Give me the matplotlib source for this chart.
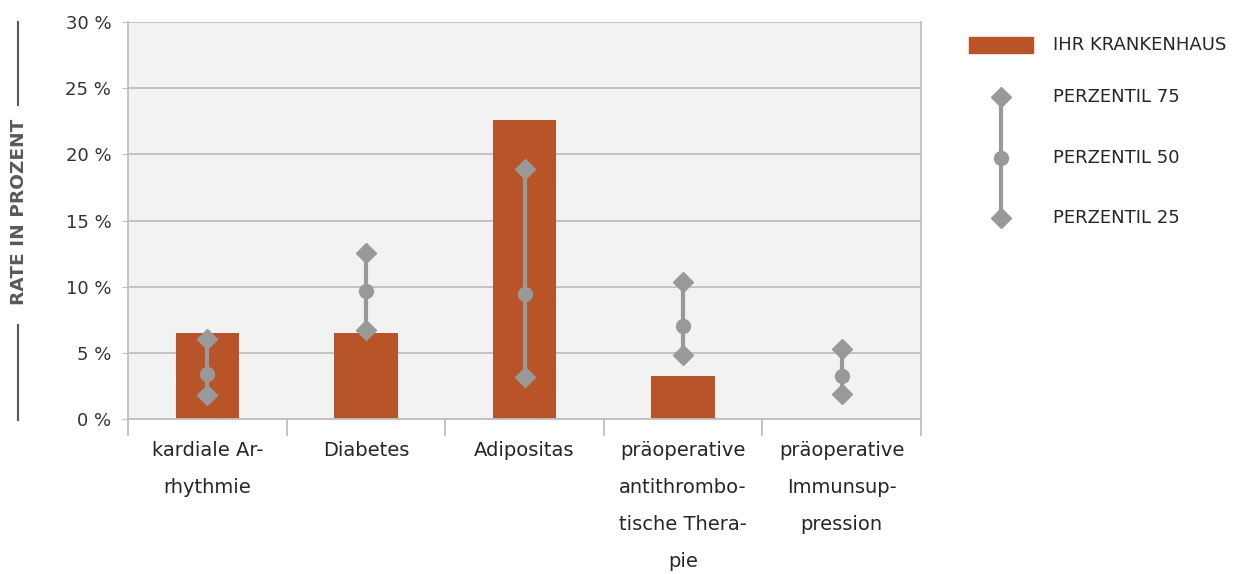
import matplotlib
matplotlib.use("Agg")
import matplotlib.pyplot as plt
import numpy as np
from matplotlib.lines import Line2D
from matplotlib.patches import Rectangle

categories = ["kardiale Ar-\nrhythmie", "Diabetes", "Adipositas",
              "präoperative\nantithrombo-\ntische Thera-\npie",
              "präoperative\nImmunsup-\npression"]
hospital = [6.5, 6.5, 22.6, 3.25, 0.0]
p75 = [6.05, 12.55, 18.9, 10.35, 5.3]
p50 = [3.4, 9.7, 9.45, 7.0, 3.25]
p25 = [1.8, 6.7, 3.2, 4.85, 1.9]
yticks = [0, 5, 10, 15, 20, 25, 30]
ytick_labels = ["0 %", "5 %", "10 %", "15 %", "20 %", "25 %", "30 %"]
legend_labels = ["IHR KRANKENHAUS", "PERZENTIL 75", "PERZENTIL 50", "PERZENTIL 25"]

BAR = "#B85428"
GRAYM = "#999999"
GRID = "#BFBFBF"
TXT = "#262626"

plt.rcParams['font.family'] = ['DejaVu Sans']
fig = plt.figure(figsize=(12.4, 5.74), dpi=100)
ax = fig.add_axes([128/1240, 1-419/574, (921-128)/1240, (419-22)/574])
ax.set_facecolor("#F2F2F2")

x = np.arange(len(categories))
ax.bar(x, hospital, width=0.40, color=BAR, zorder=2)
for xi, a, b, c in zip(x, p75, p50, p25):
    ax.plot([xi, xi], [c, a], color=GRAYM, lw=3, zorder=3, solid_capstyle='butt')
ax.plot(x, p75, linestyle='none', marker='D', ms=10, color=GRAYM, zorder=4)
ax.plot(x, p50, linestyle='none', marker='o', ms=10, color=GRAYM, zorder=4)
ax.plot(x, p25, linestyle='none', marker='D', ms=10, color=GRAYM, zorder=4)

ax.set_xlim(-0.5, len(categories) - 0.5)
ax.set_ylim(0, 30)
ax.set_yticks(yticks)
ax.set_yticklabels(ytick_labels, fontsize=13, color="#333333")
ax.yaxis.grid(True, color=GRID, lw=1.3, zorder=1)
ax.set_axisbelow(True)
ax.tick_params(axis='y', length=4, color=GRID, pad=8)

# category ticks at boundaries
ax.set_xticks(np.arange(len(categories) + 1) - 0.5)
ax.set_xticklabels([])
ax.set_xticks(x, minor=True)
ax.set_xticklabels(categories, minor=True, fontsize=14, color=TXT, linespacing=2.2, va='top')
ax.tick_params(axis='x', which='major', length=12, color=GRID, width=1.3)
ax.tick_params(axis='x', which='minor', length=0, pad=16)

for s in ['top']:
    ax.spines[s].set_visible(False)
for s in ['left', 'right', 'bottom']:
    ax.spines[s].set_color(GRID)
    ax.spines[s].set_linewidth(1.3)

# y label with side lines
fig.text(19/1240, 1-212/574, "RATE IN PROZENT", rotation=90, ha='center', va='center',
         fontsize=13.3, color="#595959", fontweight='bold')
fig.add_artist(Line2D([18/1240, 18/1240], [1-22/574, 1-105/574], color="#595959", lw=1.5))
fig.add_artist(Line2D([18/1240, 18/1240], [1-325/574, 1-420/574], color="#595959", lw=1.5))

# legend
lax = fig.add_axes([0, 0, 1, 1], facecolor='none')
lax.set_xlim(0, 1240)
lax.set_ylim(574, 0)
lax.axis('off')
lax.add_patch(Rectangle((969, 37), 64, 16, color=BAR))
lax.plot([1001, 1001], [97, 218], color=GRAYM, lw=3)
lax.plot([1001, 1001], [97, 218], linestyle='none', marker='D', ms=10, color=GRAYM)
lax.plot([1001], [158], marker='o', ms=10, color=GRAYM)
for ty, lab in zip([45, 97, 158, 218], legend_labels):
    lax.text(1053, ty, lab, fontsize=13, color=TXT, va='center', ha='left')

fig.savefig("out.png", dpi=100)
